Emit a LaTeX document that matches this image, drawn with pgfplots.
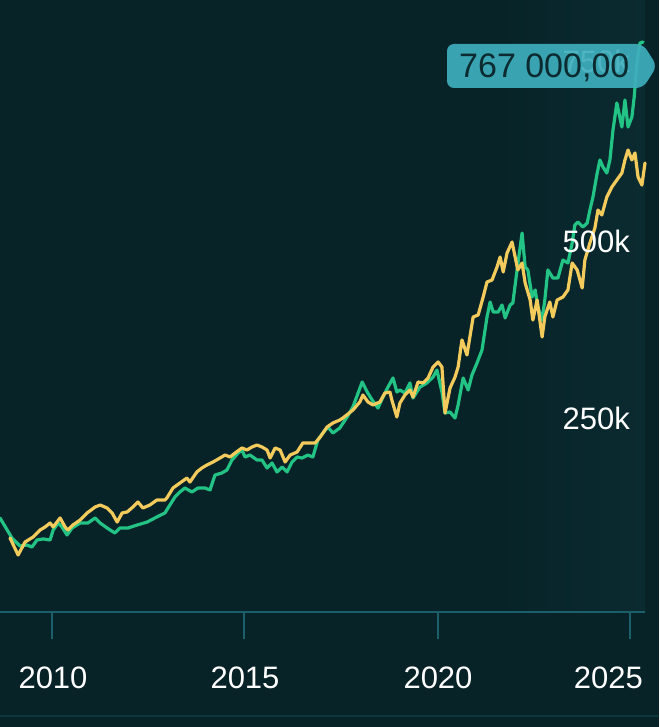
\documentclass[border=0pt]{standalone}
\usepackage{pgfplots}
\pgfplotsset{compat=1.18}
\usepackage{fontspec}
\setmainfont{Liberation Sans}
\definecolor{bg}{HTML}{072328}
\definecolor{band}{HTML}{0A2B30}
\definecolor{gline}{HTML}{22C384}
\definecolor{yline}{HTML}{F3CB5C}
\definecolor{axc}{HTML}{1B5F6B}
\definecolor{faint}{HTML}{0E363D}
\definecolor{boxc}{HTML}{3FAEBD}
\definecolor{boxt}{HTML}{0B2B30}
\begin{document}
\begin{tikzpicture}
\path[use as bounding box] (0pt,0pt) rectangle (659pt,-727pt);
\clip (0pt,0pt) rectangle (659pt,-727pt);
\fill[bg] (0pt,0pt) rectangle (659pt,-727pt);
\shade[left color=bg, right color=band] (500pt,0pt) rectangle (645pt,-612pt);
\begin{axis}[at={(0pt,-612pt)}, anchor=south west, scale only axis,
  width=659pt, height=612pt,
  xmin=2008.65, xmax=2025.754, ymin=-22.47, ymax=837.07, hide axis]
\addplot[gline, line width=3.2pt, line join=round, line cap=round] coordinates {
(2008.65,109.6) (2008.96,81.5) (2009.17,70.2) (2009.35,71.6) (2009.48,68.8)
(2009.61,78.7) (2009.77,80.1) (2009.95,78.7) (2010.03,92.7) (2010.16,102.5)
(2010.26,96.9) (2010.39,85.7) (2010.52,95.5) (2010.73,102.5) (2010.93,102.5)
(2011.12,109.6) (2011.25,102.5) (2011.43,95.5) (2011.63,88.5) (2011.76,95.5)
(2011.97,95.5) (2012.21,99.7) (2012.47,103.9) (2012.72,111.0) (2012.93,116.6)
(2013.06,127.8) (2013.19,139.0) (2013.32,146.1) (2013.45,151.7) (2013.63,146.1)
(2013.79,151.7) (2013.97,151.7) (2014.10,148.9) (2014.23,169.9) (2014.41,172.8)
(2014.54,177.0) (2014.67,191.0) (2014.83,200.8) (2014.93,205.1) (2015.01,195.2)
(2015.14,198.0) (2015.32,191.0) (2015.45,191.0) (2015.58,179.8) (2015.71,186.8)
(2015.84,174.2) (2015.97,181.2) (2016.10,174.2) (2016.23,188.2) (2016.36,195.2)
(2016.49,193.8) (2016.64,198.0) (2016.77,195.2) (2016.90,219.1) (2017.03,228.9)
(2017.16,237.4) (2017.29,228.9) (2017.47,236.0) (2017.66,251.4) (2017.81,265.5)
(2018.05,300.6) (2018.18,286.5) (2018.31,275.3) (2018.46,264.0) (2018.59,279.5)
(2018.72,293.5) (2018.85,306.2) (2018.95,286.5) (2019.03,289.3) (2019.16,285.1)
(2019.29,299.2) (2019.37,278.1) (2019.55,293.5) (2019.73,299.2) (2019.89,307.6)
(2019.99,317.4) (2020.12,286.5) (2020.20,257.0) (2020.33,258.4) (2020.46,250.0)
(2020.54,268.3) (2020.67,306.2) (2020.80,289.3) (2020.90,310.4) (2021.03,327.2)
(2021.16,345.5) (2021.29,391.9) (2021.37,412.9) (2021.45,398.9) (2021.58,398.9)
(2021.68,408.7) (2021.76,390.5) (2021.89,408.7) (2021.96,411.5) (2022.07,457.9)
(2022.20,509.8) (2022.28,462.1) (2022.35,457.9) (2022.46,419.9) (2022.54,429.8)
(2022.61,405.9) (2022.72,387.6) (2022.79,415.7) (2022.87,457.9) (2023.00,446.6)
(2023.13,446.6) (2023.26,471.9) (2023.39,467.7) (2023.50,495.8) (2023.57,521.1)
(2023.65,525.3) (2023.78,518.3) (2023.89,523.9) (2023.96,542.1) (2024.04,560.4)
(2024.14,591.3) (2024.22,612.4) (2024.30,602.5) (2024.40,594.1) (2024.48,612.4)
(2024.56,654.5) (2024.66,692.4) (2024.79,658.7) (2024.87,696.6) (2024.95,658.7)
(2025.05,672.8) (2025.11,700.8) (2025.18,748.6) (2025.26,776.7) (2025.34,778.1)
};
\addplot[yline, line width=3.2pt, line join=round, line cap=round] coordinates {
(2008.91,81.5) (2009.12,57.6) (2009.30,75.8) (2009.51,82.9) (2009.69,92.7)
(2009.82,96.9) (2009.95,102.5) (2010.03,96.9) (2010.21,109.6) (2010.34,96.9)
(2010.41,92.7) (2010.54,99.7) (2010.73,106.7) (2010.91,116.6) (2011.12,125.0)
(2011.25,127.8) (2011.43,123.6) (2011.56,116.6) (2011.69,103.9) (2011.82,116.6)
(2011.95,118.0) (2012.10,125.0) (2012.23,132.0) (2012.36,123.6) (2012.54,127.8)
(2012.72,134.8) (2012.93,134.8) (2012.98,137.6) (2013.14,151.7) (2013.32,158.7)
(2013.50,165.7) (2013.58,160.1) (2013.76,174.2) (2013.89,179.8) (2014.02,184.0)
(2014.18,188.2) (2014.36,193.8) (2014.49,198.0) (2014.62,195.2) (2014.75,200.8)
(2014.93,207.9) (2015.06,205.1) (2015.19,209.3) (2015.32,212.1) (2015.45,209.3)
(2015.58,205.1) (2015.66,193.8) (2015.79,207.9) (2015.92,205.1) (2016.05,188.2)
(2016.18,198.0) (2016.36,202.2) (2016.51,214.9) (2016.70,214.9) (2016.83,214.9)
(2016.96,223.3) (2017.14,237.4) (2017.29,243.0) (2017.47,247.2) (2017.55,250.0)
(2017.81,261.2) (2017.99,272.5) (2018.07,282.3) (2018.20,272.5) (2018.33,268.3)
(2018.51,272.5) (2018.64,285.1) (2018.77,286.5) (2018.82,275.3) (2018.95,251.4)
(2019.03,271.1) (2019.16,282.3) (2019.29,289.3) (2019.37,279.5) (2019.50,300.6)
(2019.63,299.2) (2019.76,306.2) (2019.89,321.6) (2020.02,328.7) (2020.12,321.6)
(2020.20,257.0) (2020.33,292.1) (2020.46,307.6) (2020.54,321.6) (2020.64,359.6)
(2020.77,338.5) (2020.93,391.9) (2021.06,394.7) (2021.19,419.9) (2021.29,441.0)
(2021.42,443.8) (2021.55,462.1) (2021.63,476.1) (2021.71,455.1) (2021.81,481.7)
(2021.94,497.2) (2022.02,476.1) (2022.09,457.9) (2022.20,467.7) (2022.28,439.6)
(2022.41,415.7) (2022.48,387.6) (2022.59,415.7) (2022.72,363.8) (2022.79,391.9)
(2022.92,412.9) (2023.00,391.9) (2023.11,415.7) (2023.26,419.9) (2023.39,429.8)
(2023.50,467.7) (2023.63,457.9) (2023.76,432.6) (2023.83,471.9) (2023.96,495.8)
(2024.09,516.9) (2024.17,542.1) (2024.27,535.1) (2024.40,560.4) (2024.53,574.4)
(2024.66,584.3) (2024.79,594.1) (2024.87,612.4) (2024.95,626.4) (2025.05,612.4)
(2025.13,622.2) (2025.21,588.5) (2025.31,577.2) (2025.39,608.1)
};
\end{axis}
% axis line, ticks, bottom rule
\draw[axc, line width=2.5pt] (0pt,-612pt) -- (645pt,-612pt);
\foreach \x in {52,244,438,630} \draw[axc, line width=2.5pt] (\x pt,-612pt) -- (\x pt,-639pt);
\draw[faint, line width=1.5pt] (0pt,-716pt) -- (659pt,-716pt);
\begin{scope}[every node/.style={white, inner sep=0pt, font=\fontsize{31}{36}\selectfont}]
\node[anchor=base] at (53pt,-688pt) {2010};
\node[anchor=base] at (245pt,-688pt) {2015};
\node[anchor=base] at (438pt,-688pt) {2020};
\node[anchor=base east] at (643pt,-688pt) {2025};
\node[anchor=base east] at (630pt,-252pt) {500k};
\node[anchor=base east] at (630pt,-429pt) {250k};
\node[anchor=base east] at (630pt,-73pt) {750k};
\end{scope}
\fill[boxc, opacity=0.92, rounded corners=7pt] (447pt,-44pt) -- (643pt,-44pt) -- (657pt,-66pt) -- (643pt,-88pt) -- (447pt,-88pt) -- cycle;
\node[boxt, inner sep=0pt, anchor=base west, font=\fontsize{34}{40}\selectfont] at (459pt,-78pt) {767 000,00};
\end{tikzpicture}
\end{document}
